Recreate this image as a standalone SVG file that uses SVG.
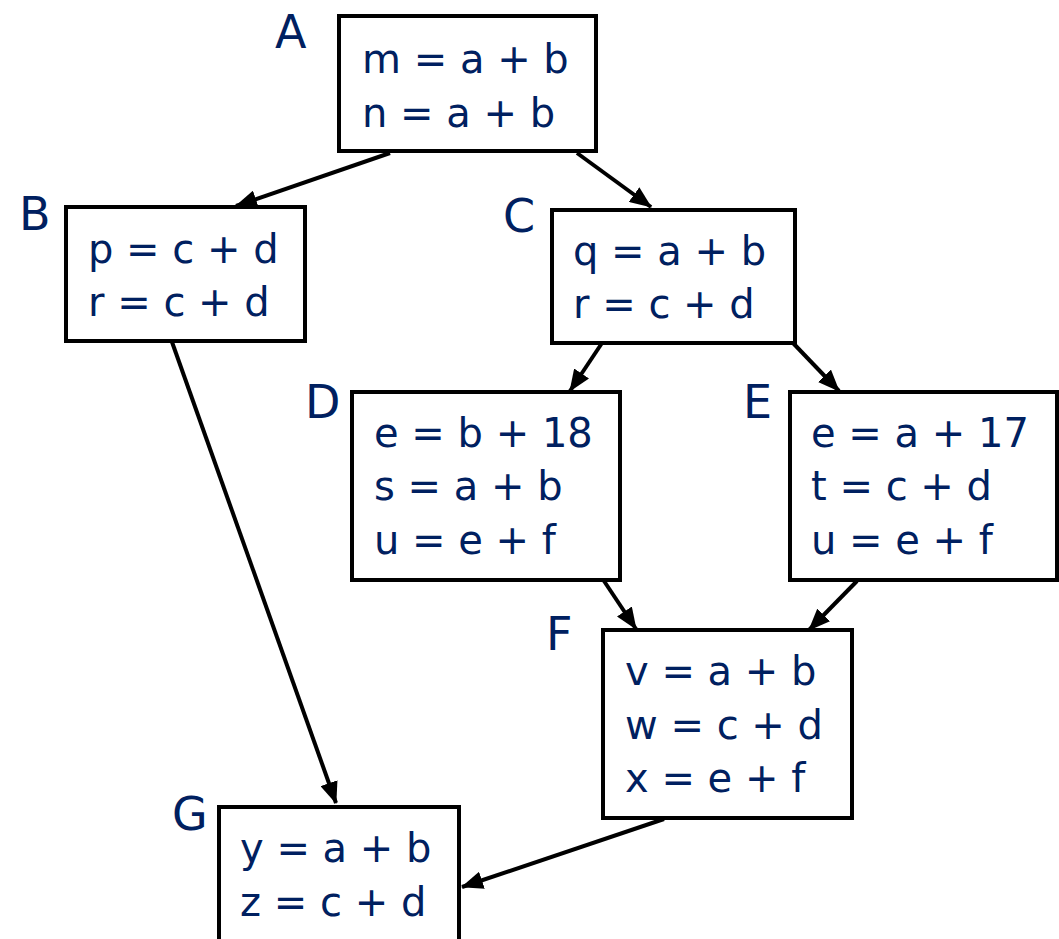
<svg xmlns="http://www.w3.org/2000/svg" width="1059" height="939" viewBox="0 0 1059 939">
<style>
.box{fill:#fff;stroke:#000;stroke-width:4}
.t{font-family:"DejaVu Sans","Liberation Sans",sans-serif;font-size:40px;fill:#002060}
.lbl{font-family:"DejaVu Sans","Liberation Sans",sans-serif;font-size:46px;fill:#002060}
.e{stroke:#000;stroke-width:4;fill:none;marker-end:url(#ah)}
</style>
<defs>
<marker id="ah" markerUnits="userSpaceOnUse" viewBox="0 0 22 18" refX="21" refY="9" markerWidth="22" markerHeight="18" orient="auto">
<path d="M0,0 L22,9 L0,18 z" fill="#000"/>
</marker>
</defs>
<rect width="1059" height="939" fill="#fff"/>
<g id="edges">
<line class="e" x1="390" y1="153" x2="236" y2="206"/>
<line class="e" x1="577" y1="153" x2="651" y2="207"/>
<line class="e" x1="172" y1="342" x2="336" y2="803"/>
<line class="e" x1="602" y1="343" x2="570" y2="391"/>
<line class="e" x1="793" y1="343" x2="839" y2="391"/>
<line class="e" x1="604" y1="581" x2="636" y2="629"/>
<line class="e" x1="857" y1="581" x2="809" y2="630"/>
<line class="e" x1="664" y1="819" x2="462" y2="887"/>
</g>
<g id="A">
<rect class="box" x="339" y="16" width="257" height="135"/>
<text class="lbl" x="275" y="48">A</text>
<text class="t" x="362" y="73">m = a + b</text>
<text class="t" x="362" y="127">n = a + b</text>
</g>
<g id="B">
<rect class="box" x="66" y="207" width="239" height="134"/>
<text class="lbl" x="19" y="230">B</text>
<text class="t" x="88" y="263">p = c + d</text>
<text class="t" x="88" y="316">r = c + d</text>
</g>
<g id="C">
<rect class="box" x="552" y="210" width="243" height="133"/>
<text class="lbl" x="503" y="232">C</text>
<text class="t" x="573" y="265">q = a + b</text>
<text class="t" x="573" y="318">r = c + d</text>
</g>
<g id="D">
<rect class="box" x="352" y="392" width="268" height="188"/>
<text class="lbl" x="305" y="418">D</text>
<text class="t" x="374" y="447">e = b + 18</text>
<text class="t" x="374" y="500">s = a + b</text>
<text class="t" x="374" y="554">u = e + f</text>
</g>
<g id="E">
<rect class="box" x="790" y="392" width="267" height="188"/>
<text class="lbl" x="743" y="418">E</text>
<text class="t" x="811" y="447">e = a + 17</text>
<text class="t" x="811" y="500">t = c + d</text>
<text class="t" x="811" y="554">u = e + f</text>
</g>
<g id="F">
<rect class="box" x="603" y="630" width="249" height="188"/>
<text class="lbl" x="546" y="650">F</text>
<text class="t" x="625" y="685">v = a + b</text>
<text class="t" x="625" y="739">w = c + d</text>
<text class="t" x="625" y="792">x = e + f</text>
</g>
<g id="G">
<rect class="box" x="219" y="807" width="240" height="150"/>
<text class="lbl" x="172" y="830">G</text>
<text class="t" x="240" y="862">y = a + b</text>
<text class="t" x="240" y="916">z = c + d</text>
</g>
</svg>
